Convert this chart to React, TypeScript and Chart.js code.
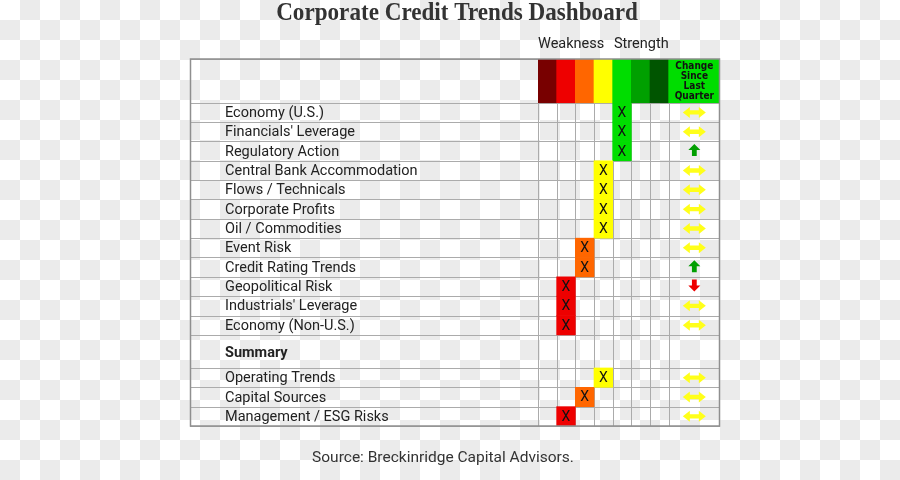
import React, { useEffect, useRef } from "react";
import { Chart, registerables } from "chart.js";

Chart.register(...registerables);

// ---------- text ----------
const TITLE = "Corporate Credit Trends Dashboard";
const SOURCE = "Source: Breckinridge Capital Advisors.";
const SCALE_LOW = "Weakness";
const SCALE_HIGH = "Strength";
const CHANGE_HEADER = ["Change", "Since", "Last", "Quarter"];

// ---------- data ----------
// score: 1 = strongest weakness (dark red) ... 7 = strongest strength (dark green)
// change: -1 = worse, 0 = unchanged, 1 = better
const factorLabels = [
  "Economy (U.S.)",
  "Financials' Leverage",
  "Regulatory Action",
  "Central Bank Accommodation",
  "Flows / Technicals",
  "Corporate Profits",
  "Oil / Commodities",
  "Event Risk",
  "Credit Rating Trends",
  "Geopolitical Risk",
  "Industrials' Leverage",
  "Economy (Non-U.S.)",
];
const factorScores = [5, 5, 5, 4, 4, 4, 4, 3, 3, 2, 2, 2];
const factorChanges = [0, 0, 1, 0, 0, 0, 0, 0, 1, -1, 0, 0];

const summaryTitle = "Summary";
const summaryLabels = ["Operating Trends", "Capital Sources", "Management / ESG Risks"];
const summaryScores = [4, 3, 2];
const summaryChanges = [0, 0, 0];

// ---------- styles ----------
const scaleColors = ["#780000", "#ee0000", "#ff6600", "#ffff00", "#00dd00", "#00a000", "#005500"];
const changeHeaderColor = "#00dd00";
const FLAT_COLOR = "#ffff1a";
const UP_COLOR = "#009e00";
const DOWN_COLOR = "#ee0000";
const GRID_COLOR = "#ababab";
const BORDER_COLOR = "#8f8f8f";
const TEXT_COLOR = "#222222";
const LABEL_FONT = "Roboto";

// ---------- layout ----------
const W = 900;
const H = 480;
const PAD = { top: 59, bottom: 54, left: 225, right: 180 };
const TABLE_LEFT = 190;
const AXIS_W = 313;
const HEADER_U = 2.26;
const SUMMARY_U = 1.71;
const N_COLS = scaleColors.length;
const X_MAX = 9.75;
const CHANGE_X = (N_COLS + X_MAX) / 2;

type Row = { label: string; center: number; score?: number; change?: number; bold?: boolean };
const rows: Row[] = [];
const boundaries: number[] = [0, HEADER_U];
let cursor = HEADER_U;
factorLabels.forEach((label, i) => {
  rows.push({ label, center: cursor + 0.5, score: factorScores[i], change: factorChanges[i] });
  cursor += 1;
  boundaries.push(cursor);
});
rows.push({ label: summaryTitle, center: cursor + SUMMARY_U / 2 + 0.05, bold: true });
cursor += SUMMARY_U;
boundaries.push(cursor);
summaryLabels.forEach((label, i) => {
  rows.push({ label, center: cursor + 0.5, score: summaryScores[i], change: summaryChanges[i] });
  cursor += 1;
  boundaries.push(cursor);
});
const Y_MAX = cursor;
const HEADER_PX = (HEADER_U * (H - PAD.top - PAD.bottom)) / Y_MAX;
const scored = rows.filter((r) => r.score != null);

function drawFlat(ctx: CanvasRenderingContext2D, cx: number, cy: number) {
  const hw = 11.5, head = 7, hh = 5.5, sh = 2.2;
  ctx.beginPath();
  ctx.moveTo(cx - hw, cy);
  ctx.lineTo(cx - hw + head, cy - hh);
  ctx.lineTo(cx - hw + head, cy - sh);
  ctx.lineTo(cx + hw - head, cy - sh);
  ctx.lineTo(cx + hw - head, cy - hh);
  ctx.lineTo(cx + hw, cy);
  ctx.lineTo(cx + hw - head, cy + hh);
  ctx.lineTo(cx + hw - head, cy + sh);
  ctx.lineTo(cx - hw + head, cy + sh);
  ctx.lineTo(cx - hw + head, cy + hh);
  ctx.closePath();
  ctx.fillStyle = FLAT_COLOR;
  ctx.fill();
}

function drawVertical(ctx: CanvasRenderingContext2D, cx: number, cy: number, dir: number, color: string) {
  // dir = -1 up, 1 down
  const hl = 6, hw = 6, head = 6, sw = 2.4;
  const tip = cy + dir * hl;
  const base = tip - dir * head;
  const tail = cy - dir * hl;
  ctx.beginPath();
  ctx.moveTo(cx, tip);
  ctx.lineTo(cx + hw, base);
  ctx.lineTo(cx + sw, base);
  ctx.lineTo(cx + sw, tail);
  ctx.lineTo(cx - sw, tail);
  ctx.lineTo(cx - sw, base);
  ctx.lineTo(cx - hw, base);
  ctx.closePath();
  ctx.fillStyle = color;
  ctx.fill();
}

const tablePlugin = {
  id: "tablePlugin",
  beforeDatasetsDraw(chart: any) {
    const { ctx, chartArea, scales } = chart;
    const x = scales.x, y = scales.y;
    ctx.save();
    ctx.strokeStyle = GRID_COLOR;
    ctx.lineWidth = 1;
    boundaries.forEach((b) => {
      const py = Math.round(y.getPixelForValue(b)) + 0.5;
      ctx.beginPath();
      ctx.moveTo(TABLE_LEFT, py);
      ctx.lineTo(chartArea.right, py);
      ctx.stroke();
    });
    const yTop = y.getPixelForValue(HEADER_U);
    const yBot = y.getPixelForValue(Y_MAX);
    for (let k = 0; k <= N_COLS; k++) {
      const px = Math.round(x.getPixelForValue(k)) + 0.5;
      ctx.beginPath();
      ctx.moveTo(px, yTop);
      ctx.lineTo(px, yBot);
      ctx.stroke();
    }
    ctx.restore();
  },
  afterDatasetsDraw(chart: any) {
    const { ctx, chartArea, scales } = chart;
    const x = scales.x, y = scales.y;
    ctx.save();
    // X marks
    ctx.fillStyle = "#111";
    ctx.font = `14px ${LABEL_FONT}`;
    ctx.textAlign = "center";
    ctx.textBaseline = "middle";
    scored.forEach((r) => {
      ctx.fillText("X", x.getPixelForValue((r.score as number) - 0.5), y.getPixelForValue(r.center) + 1);
    });
    // change arrows
    const cx = x.getPixelForValue(CHANGE_X);
    scored.forEach((r) => {
      const cy = y.getPixelForValue(r.center);
      if (r.change === 0) drawFlat(ctx, cx, cy);
      else if ((r.change as number) > 0) drawVertical(ctx, cx, cy - 1, -1, UP_COLOR);
      else drawVertical(ctx, cx, cy - 1, 1, DOWN_COLOR);
    });
    // change header
    ctx.fillStyle = "#111";
    ctx.font = `bold 10px "DejaVu Sans Condensed", "DejaVu Sans"`;
    const hc = y.getPixelForValue(HEADER_U / 2);
    CHANGE_HEADER.forEach((t, i) => {
      ctx.fillText(t, cx, hc + 0.5 + (i - (CHANGE_HEADER.length - 1) / 2) * 10);
    });
    // outer border
    ctx.strokeStyle = BORDER_COLOR;
    ctx.lineWidth = 1.5;
    ctx.strokeRect(TABLE_LEFT + 0.5, chartArea.top, chartArea.right - TABLE_LEFT - 1, chartArea.bottom - chartArea.top);
    ctx.restore();
  },
  afterDraw(chart: any) {
    const { ctx, scales } = chart;
    const x = scales.x;
    ctx.save();
    ctx.fillStyle = "#333";
    ctx.textBaseline = "middle";
    ctx.textAlign = "center";
    ctx.font = `bold 25px "Liberation Serif"`;
    ctx.save();
    ctx.translate(457, 14);
    ctx.scale(0.925, 1);
    ctx.fillText(TITLE, 0, 0);
    ctx.restore();
    ctx.font = `14.5px ${LABEL_FONT}`;
    ctx.fillStyle = TEXT_COLOR;
    ctx.textAlign = "left";
    ctx.fillText(SCALE_LOW, x.getPixelForValue(0), 44);
    ctx.textAlign = "right";
    ctx.fillText(SCALE_HIGH, x.getPixelForValue(N_COLS), 44);
    ctx.textAlign = "center";
    ctx.font = `15.5px ${LABEL_FONT}`;
    ctx.fillStyle = "#333";
    ctx.fillText(SOURCE, 443, 458);
    ctx.restore();
  },
};

export default function App() {
  const ref = useRef<HTMLCanvasElement | null>(null);
  useEffect(() => {
    if (!ref.current) return;
    const chart = new Chart(ref.current, {
      type: "bar",
      data: {
        datasets: [
          {
            label: "header",
            data: [
              ...scaleColors.map((_, i) => ({ x: [i, i + 1], y: HEADER_U / 2 })),
              { x: [N_COLS, X_MAX], y: HEADER_U / 2 },
            ] as any,
            backgroundColor: [...scaleColors, changeHeaderColor],
            barThickness: HEADER_PX,
            grouped: false,
            borderWidth: 0,
          } as any,
          {
            label: "rating",
            data: scored.map((r) => ({ x: [(r.score as number) - 1, r.score as number], y: r.center })) as any,
            backgroundColor: scored.map((r) => scaleColors[(r.score as number) - 1]),
            barPercentage: 1,
            categoryPercentage: 1,
            grouped: false,
            borderWidth: 0,
          } as any,
        ],
      },
      options: {
        indexAxis: "y",
        animation: false,
        responsive: false,
        events: [],
        layout: { padding: PAD },
        plugins: { legend: { display: false }, tooltip: { enabled: false }, title: { display: false } },
        scales: {
          x: { type: "linear", min: 0, max: X_MAX, display: false, offset: false },
          y: {
            type: "linear",
            reverse: true,
            min: 0,
            max: Y_MAX,
            bounds: "data",
            offset: false,
            grid: { display: false, offset: false },
            border: { display: false },
            afterFit: (s: any) => {
              s.width = AXIS_W;
            },
            afterBuildTicks: (s: any) => {
              s.ticks = rows.map((r) => ({ value: r.center }));
            },
            ticks: {
              autoSkip: false,
              crossAlign: "far",
              padding: 0,
              labelOffset: 1,
              color: TEXT_COLOR,
              font: (c: any) => ({ family: LABEL_FONT, size: 14.5, weight: rows[c.index] && rows[c.index].bold ? "bold" : "normal" }),
              callback: (_v: any, i: number) => (rows[i] ? rows[i].label : ""),
            },
          } as any,
        },
      } as any,
      plugins: [tablePlugin],
    });
    return () => chart.destroy();
  }, []);
  return (
    <div
      style={{
        position: "absolute",
        left: 0,
        top: 0,
        width: W,
        height: H,
        background: "repeating-conic-gradient(#ebebeb 0% 25%, #ffffff 0% 50%) 0 0 / 40px 40px",
      }}
    >
      <canvas ref={ref} width={W} height={H} style={{ display: "block" }} />
    </div>
  );
}
